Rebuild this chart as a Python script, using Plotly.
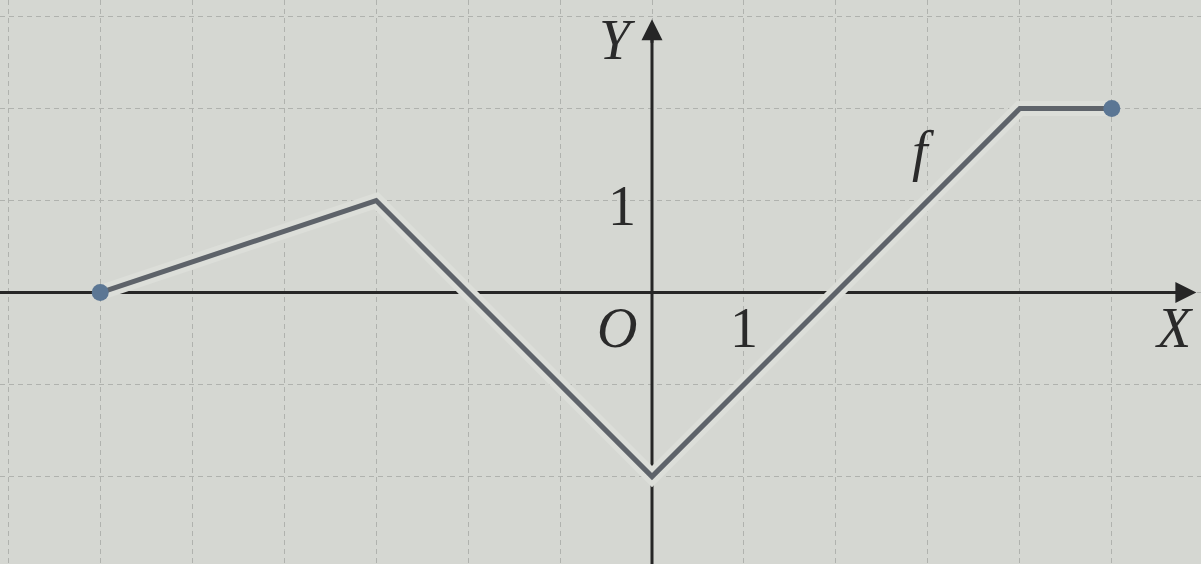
import plotly.graph_objects as go

# piecewise function f
fx = [-6, -3, 0, 4, 5]
fy = [0, 1, -2, 2, 2]

# closed end points
end_x = [-6, 5]
end_y = [0, 2]

# labels next to the axes
label_text = ["<i>Y</i>", "<i>X</i>", "<i>O</i>", "1", "1", "<i>f</i>"]
label_x = [-0.37, 5.68, -0.38, 1.0, -0.33, 2.95]
label_y = [2.74, -0.39, -0.39, -0.39, 0.94, 1.54]

bg = "#d5d7d2"
axis_color = "#262626"
curve_color = "#5e636a"

x_range = [-7.09, 5.97]
y_range = [-2.95, 3.18]

fig = go.Figure()

# axes as lines so the halo of the curve can break them
fig.add_trace(go.Scatter(x=[x_range[0], 5.75], y=[0, 0], mode="lines",
                         line=dict(color=axis_color, width=3), hoverinfo="skip"))
fig.add_trace(go.Scatter(x=[0, 0], y=[y_range[0], 2.85], mode="lines",
                         line=dict(color=axis_color, width=3), hoverinfo="skip"))

# halo under the curve
fig.add_trace(go.Scatter(x=fx, y=fy, mode="lines",
                         line=dict(color="#dcded9", width=15), hoverinfo="skip"))
fig.add_trace(go.Scatter(x=fx, y=fy, mode="lines",
                         line=dict(color=curve_color, width=5)))
fig.add_trace(go.Scatter(x=end_x, y=end_y, mode="markers",
                         marker=dict(color="#5b7694", size=17)))

# arrow tips
for tip, tail in [((5.92, 0), (5.6, 0)), ((0, 2.97), (0, 2.7))]:
    fig.add_annotation(x=tip[0], y=tip[1], ax=tail[0], ay=tail[1],
                       xref="x", yref="y", axref="x", ayref="y",
                       text="", showarrow=True, arrowhead=2, arrowsize=1.4,
                       arrowwidth=3, arrowcolor=axis_color)

for t, x, y in zip(label_text, label_x, label_y):
    fig.add_annotation(x=x, y=y, text=t, showarrow=False,
                       font=dict(family="Liberation Serif, Times New Roman, serif",
                                 size=56, color="#2a2a2a"))

fig.update_layout(
    width=1201, height=564,
    margin=dict(l=0, r=0, t=0, b=0),
    paper_bgcolor=bg, plot_bgcolor=bg,
    showlegend=False,
    xaxis=dict(range=x_range, dtick=1, tick0=0, showgrid=True, gridcolor="#b0b2ae",
               griddash="5px,4px", gridwidth=1.2, zeroline=False, showticklabels=False,
               fixedrange=True),
    yaxis=dict(range=y_range, dtick=1, tick0=0, showgrid=True, gridcolor="#b0b2ae",
               griddash="5px,4px", gridwidth=1.2, zeroline=False, showticklabels=False,
               fixedrange=True),
)

fig.write_html("out.html", config={"displayModeBar": False},
               post_script="document.body.style.margin='0';document.body.style.overflow='hidden';")
